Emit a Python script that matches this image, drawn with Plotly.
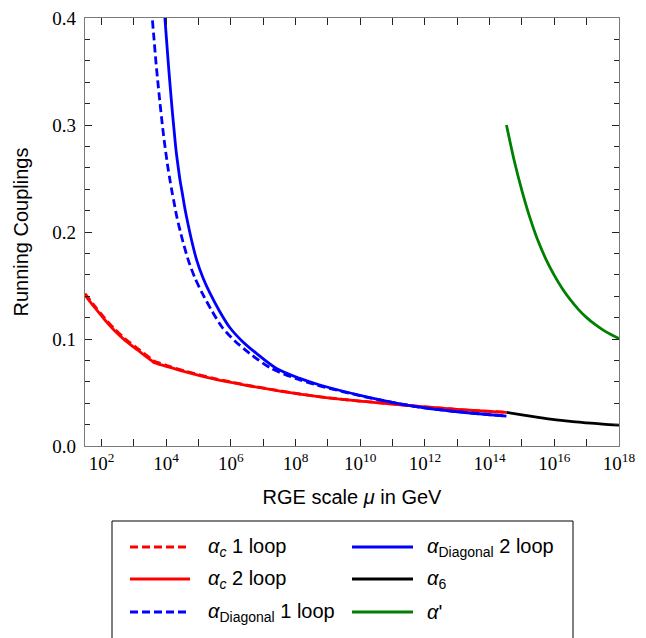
import plotly.graph_objects as go

# ---- data (log10 of RGE scale mu in GeV, coupling value) ----
red1_log = [1.49, 1.8, 2.1, 2.4, 2.72, 3.1, 3.54, 3.62, 4.0, 4.57, 5.5, 6.43, 7.3, 8.13, 9.0, 10.19, 11.0, 11.73, 13.0, 14.52]
red1_val = [0.1425, 0.1305, 0.1195, 0.1095, 0.1005, 0.0915, 0.0815, 0.0795, 0.0755, 0.0702, 0.0630, 0.0573, 0.0527, 0.0486, 0.0451, 0.0415, 0.0393, 0.0372, 0.0342, 0.0315]

red2_log = [1.49, 1.8, 2.1, 2.4, 2.72, 3.1, 3.54, 3.62, 4.0, 4.57, 5.5, 6.43, 7.3, 8.13, 9.0, 10.19, 11.0, 11.73, 13.0, 14.52]
red2_val = [0.141, 0.129, 0.118, 0.108, 0.099, 0.090, 0.080, 0.078, 0.0745, 0.0695, 0.0625, 0.057, 0.0525, 0.0485, 0.045, 0.0414, 0.0392, 0.0372, 0.0342, 0.0315]

blue_val = [0.42, 0.40, 0.38, 0.36, 0.341, 0.323, 0.306, 0.290, 0.275, 0.261, 0.248, 0.236, 0.225, 0.214, 0.193, 0.174, 0.157, 0.143, 0.126, 0.111, 0.098, 0.0866, 0.0725, 0.0632, 0.057, 0.046, 0.0368, 0.032, 0.028]
blue1_log = [3.53, 3.57, 3.625, 3.68, 3.74, 3.80, 3.86, 3.92, 3.985, 4.05, 4.12, 4.19, 4.26, 4.33, 4.50, 4.68, 4.89, 5.11, 5.42, 5.73, 6.13, 6.58, 7.25, 8.0, 8.65, 10.15, 11.72, 13.0, 14.52]
blue2_log = [3.92, 3.96, 4.01, 4.06, 4.11, 4.16, 4.21, 4.26, 4.31, 4.37, 4.43, 4.50, 4.56, 4.63, 4.78, 4.94, 5.14, 5.35, 5.65, 5.96, 6.35, 6.79, 7.41, 8.13, 8.75, 10.19, 11.73, 13.0, 14.52]

a6_log = [14.52, 15.0, 15.5, 16.06, 16.5, 17.0, 17.5, 18.0]
a6_val = [0.0315, 0.0291, 0.0268, 0.0245, 0.0230, 0.0217, 0.0205, 0.0196]

ap_log = [14.52, 14.75, 15.0, 15.25, 15.5, 15.75, 16.0, 16.25, 16.5, 16.75, 17.0, 17.25, 17.5, 17.75, 18.0]
ap_val = [0.300, 0.268, 0.2385, 0.213, 0.1915, 0.174, 0.1595, 0.147, 0.1365, 0.1275, 0.1200, 0.1138, 0.1085, 0.1042, 0.1005]

x_tick_exp = list(range(2, 19))
x_tick_text = ["10<sup>%d</sup>" % k if k % 2 == 0 else "" for k in x_tick_exp]
y_tick_vals = [0.0, 0.1, 0.2, 0.3, 0.4]
y_tick_text = ["0.0", "0.1", "0.2", "0.3", "0.4"]

legend_names = [
    "<i>α</i><sub><i>c</i></sub> 1 loop",
    "<i>α</i><sub><i>c</i></sub> 2 loop",
    "<i>α</i><sub>Diagonal</sub> 1 loop",
    "<i>α</i><sub>Diagonal</sub> 2 loop",
    "<i>α</i><sub>6</sub>",
    "<i>α</i>'",
]
colors = ["#ff0000", "#ff0000", "#0000ff", "#0000ff", "#000000", "#008000"]
dashes = ["8px,4px", "solid", "8px,4px", "solid", "solid", "solid"]

series = [
    (red1_log, red1_val),
    (red2_log, red2_val),
    (blue1_log, blue_val),
    (blue2_log, blue_val),
    (a6_log, a6_val),
    (ap_log, ap_val),
]

fig = go.Figure()
for (xl, yv), name, c, d in zip(series, legend_names, colors, dashes):
    fig.add_trace(go.Scatter(
        x=[10 ** v for v in xl], y=yv, mode="lines", name=name,
        line=dict(color=c, width=2.8, dash=d, shape="spline", smoothing=0.8),
        showlegend=False,
    ))

# ---- manual legend (layout decoration, paper coords) ----
L, R, T, B = 85, 619, 18, 446
W, H = R - L, B - T
def px(x):
    return (x - L) / W
def py(y):
    return (B - y) / H

fig.add_shape(type="rect", xref="paper", yref="paper",
              x0=px(112), x1=px(573), y0=py(645), y1=py(521),
              line=dict(color="#000000", width=1), fillcolor="rgba(0,0,0,0)")

rows = [547, 579, 612]
slots = [(0, 0), (0, 1), (0, 2), (1, 0), (1, 1), (1, 2)]
col_line = [(130, 190), (352, 413)]
col_text = [206, 425]
for (col, row), name, c, d in zip(slots, legend_names, colors, dashes):
    yy = py(rows[row])
    fig.add_shape(type="line", xref="paper", yref="paper",
                  x0=px(col_line[col][0]), x1=px(col_line[col][1]), y0=yy, y1=yy,
                  line=dict(color=c, width=2.8, dash=d))
    fig.add_annotation(xref="paper", yref="paper", x=px(col_text[col]), y=yy,
                       text=name, showarrow=False, xanchor="left", yanchor="middle",
                       font=dict(family="Liberation Sans, Arial, sans-serif", size=20, color="#000"))

axis_common = dict(
    showgrid=False, zeroline=False, showline=True, linecolor="#7a7a7a", linewidth=1.2,
    mirror="ticks", ticks="inside", tickcolor="#222222", tickwidth=1,
    tickfont=dict(family="Liberation Serif, Times New Roman, serif", size=19, color="#000"),
    automargin=False,
)

fig.update_xaxes(
    type="log", range=[1.49, 18.0],
    tickvals=[10 ** k for k in x_tick_exp], ticktext=x_tick_text, ticklen=7,
    title=dict(text="RGE scale <i>μ</i> in GeV", standoff=17,
               font=dict(family="Liberation Sans, Arial, sans-serif", size=20, color="#000")),
    **axis_common,
)
fig.update_yaxes(
    range=[0, 0.4], tickvals=y_tick_vals, ticktext=y_tick_text, ticklen=7,
    ticklabelstandoff=4,
    minor=dict(dtick=0.02, ticks="inside", ticklen=5, tickcolor="#222222", showgrid=False),
    title=dict(text="Running Couplings", standoff=18,
               font=dict(family="Liberation Sans, Arial, sans-serif", size=20, color="#000")),
    **axis_common,
)

fig.update_layout(
    width=646, height=638,
    margin=dict(l=L, r=646 - R, t=T, b=638 - B, autoexpand=False),
    paper_bgcolor="white", plot_bgcolor="white",
    showlegend=False,
)

fig.write_html("out.html", config={"displayModeBar": False},
               post_script="document.body.style.margin='0px';")
